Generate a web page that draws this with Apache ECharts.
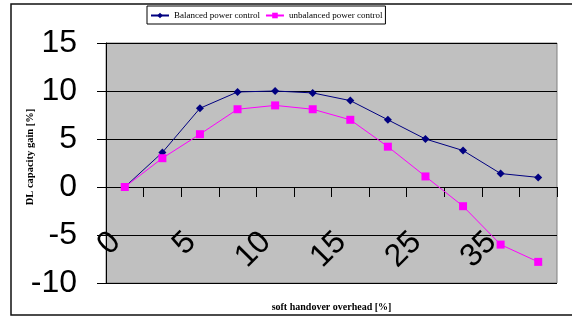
<!DOCTYPE html>
<html>
<head>
<meta charset="utf-8">
<script src="https://cdn.jsdelivr.net/npm/echarts@6/dist/echarts.min.js"></script>
<style>html,body{margin:0;padding:0;background:#fff}#c{width:572px;height:317px}</style>
</head>
<body>
<div id="c"></div>
<script>
var categories = ['0','2.5','5','7.5','10','12.5','15','20','25','30','35','40'];
var balanced = [0, 3.6, 8.2, 9.9, 10.0, 9.8, 9.0, 7.0, 5.0, 3.8, 1.4, 1.0];
var unbalanced = [0, 3.0, 5.5, 8.1, 8.5, 8.1, 7.0, 4.2, 1.1, -2.0, -6.0, -7.8];
var yTicks = {min: -10, max: 15, interval: 5};
var seriesNames = ['Balanced power control', 'unbalanced power control'];

var chart = echarts.init(document.getElementById('c'), null, {renderer: 'canvas'});
var bigFont = "'Liberation Sans', Arial, sans-serif";
var serif = "'Liberation Serif', 'Times New Roman', serif";
chart.setOption({
  animation: false,
  backgroundColor: '#fff',
  graphic: [{
    type: 'rect', silent: true,
    shape: {x: 11, y: 4, width: 575, height: 311},
    style: {fill: 'none', stroke: '#111', lineWidth: 1.5}
  }],
  legend: {
    top: 6, left: 147,
    itemWidth: 18, itemHeight: 7, itemGap: 5,
    padding: [5, 3, 4, 3],
    borderColor: '#000', borderWidth: 1,
    textStyle: {fontFamily: serif, fontSize: 9, color: '#000'},
    data: seriesNames
  },
  grid: {
    left: 106, top: 43, right: 15, bottom: 34,
    containLabel: false, outerBoundsMode: 'none',
    show: true, backgroundColor: '#C0C0C0', borderColor: '#808080', borderWidth: 1
  },
  xAxis: {
    type: 'category',
    data: categories,
    boundaryGap: true,
    name: 'soft handover overhead [%]',
    nameLocation: 'middle',
    nameGap: 19,
    nameMoveOverlap: false,
    nameTextStyle: {fontFamily: serif, fontWeight: 'bold', fontSize: 10, color: '#000'},
    axisLine: {onZero: true, lineStyle: {color: '#000', width: 1}},
    axisTick: {show: true, length: 10, interval: 0, lineStyle: {color: '#000'}},
    axisLabel: {interval: 1, rotate: 45, margin: -55, padding: [0, 13, 0, 0], hideOverlap: false, fontFamily: bigFont, fontSize: 32, color: '#000'},
    splitLine: {show: false}
  },
  yAxis: {
    type: 'value',
    min: yTicks.min, max: yTicks.max, interval: yTicks.interval,
    name: 'DL capacity gain [%]',
    nameLocation: 'middle',
    nameGap: 70,
    nameMoveOverlap: false,
    nameTextStyle: {fontFamily: serif, fontWeight: 'bold', fontSize: 10.5, color: '#000', padding: [0, 0, 0, 12]},
    axisLine: {show: true, lineStyle: {color: '#000', width: 1}},
    axisTick: {show: true, length: 9, lineStyle: {color: '#000'}},
    axisLabel: {margin: 29, hideOverlap: false, showMinLabel: true, showMaxLabel: true, fontFamily: bigFont, fontSize: 32, color: '#000'},
    splitLine: {show: true, lineStyle: {color: '#000', width: 1}}
  },
  series: [{
    name: seriesNames[0], type: 'line', data: balanced,
    symbol: 'diamond', symbolSize: 8,
    itemStyle: {color: '#000080'},
    lineStyle: {color: '#000080', width: 1}
  }, {
    name: seriesNames[1], type: 'line', data: unbalanced,
    symbol: 'rect', symbolSize: 8,
    itemStyle: {color: '#FF00FF'},
    lineStyle: {color: '#FF00FF', width: 1}
  }]
});
</script>
</body>
</html>
